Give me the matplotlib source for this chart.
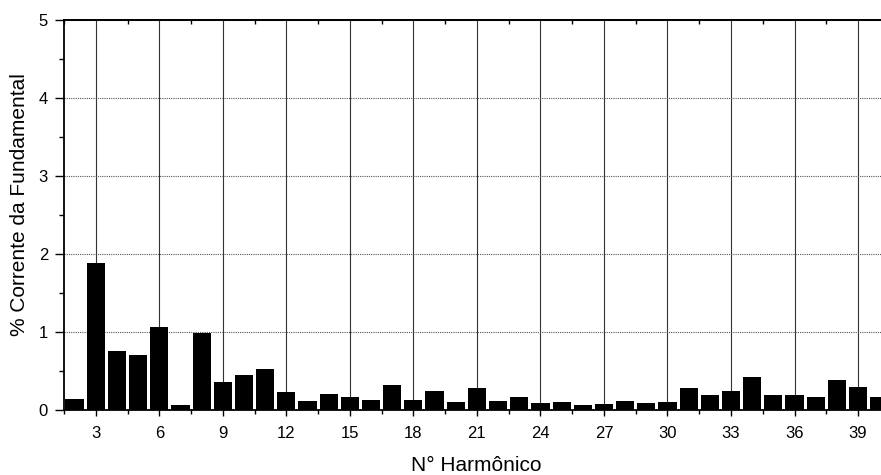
import matplotlib
matplotlib.use("Agg")
import matplotlib.pyplot as plt
from matplotlib.ticker import MultipleLocator

plt.rcParams['font.family'] = ['Liberation Sans', 'DejaVu Sans']

harmonics = list(range(2, 41))
values = [0.14, 1.88, 0.76, 0.70, 1.07, 0.06, 0.99, 0.36, 0.45, 0.52,
          0.23, 0.12, 0.20, 0.17, 0.13, 0.32, 0.13, 0.24, 0.10, 0.28,
          0.11, 0.17, 0.09, 0.10, 0.06, 0.08, 0.12, 0.09, 0.10, 0.28,
          0.19, 0.24, 0.42, 0.19, 0.19, 0.17, 0.39, 0.29, 0.17]
xticks = [3, 6, 9, 12, 15, 18, 21, 24, 27, 30, 33, 36, 39]

W, H = 881, 475
fig = plt.figure(figsize=(W / 100, H / 100), dpi=100)
left, right, top, bottom = 64, 64 + 39 * 21.175, 20, 410
ax = fig.add_axes([left / W, (H - bottom) / H, (right - left) / W, (bottom - top) / H])

ax.bar(harmonics, values, width=0.86, color='black', zorder=3)

ax.set_xlim(1.5, 40.5)
ax.set_ylim(0, 5)
ax.set_xticks(xticks)
ax.xaxis.set_minor_locator(MultipleLocator(1.5))
ax.set_yticks([0, 1, 2, 3, 4, 5])
ax.yaxis.set_minor_locator(MultipleLocator(0.5))

ax.grid(axis='x', which='major', color='#333333', linestyle='-', linewidth=0.8, zorder=1)
ax.grid(axis='y', which='major', color='#555555', linestyle=(0, (1, 1)), linewidth=0.8, zorder=1)

ax.tick_params(axis='x', which='major', direction='out', length=4.5, width=1, labelsize=12, pad=7, top=False)
ax.tick_params(axis='x', which='minor', direction='out', length=3, width=1, top=False)
ax.tick_params(axis='y', which='major', direction='out', length=6.5, width=1, labelsize=12, pad=5, right=False)
ax.tick_params(axis='y', which='minor', direction='out', length=3.5, width=1, right=False)

sec = ax.secondary_xaxis('top')
sec.set_xticks(xticks)
sec.xaxis.set_minor_locator(MultipleLocator(1.5))
sec.tick_params(which='major', direction='in', length=0, labeltop=False)
sec.tick_params(which='minor', direction='in', length=3, width=1)
sec.set_xticklabels([])
sec.spines['top'].set_linewidth(1.3)

for s in ax.spines.values():
    s.set_linewidth(1.3)

ax.set_xlabel('N° Harmônico', fontsize=15)
ax.set_ylabel('% Corrente da Fundamental', fontsize=15)
ax.xaxis.label.set_va('baseline')
ax.xaxis.set_label_coords((476 - left) / (right - left), -(471 - bottom) / (bottom - top))
ax.yaxis.label.set_va('center')
ax.yaxis.set_label_coords(-(left - 20) / (right - left), (bottom - 205) / (bottom - top))

fig.savefig('out.png', dpi=100)
